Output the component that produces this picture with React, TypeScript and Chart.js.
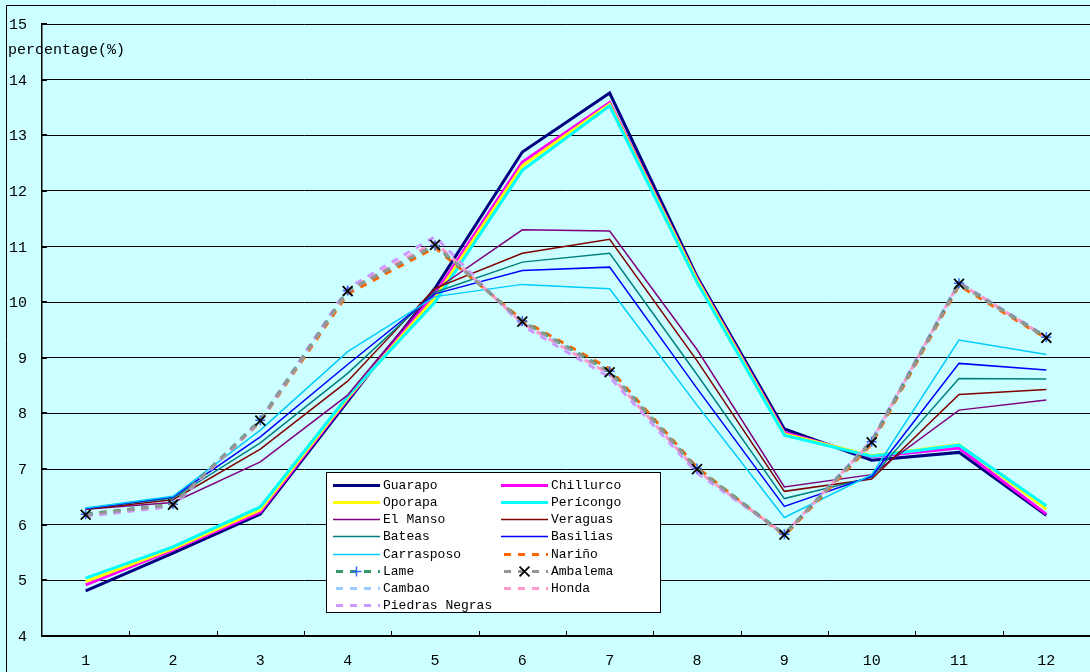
import React, { useEffect, useRef } from 'react';
import { Chart, registerables } from 'chart.js';

Chart.register(...registerables);

// Monthly share (%) by locality
const MONTHS = ['1', '2', '3', '4', '5', '6', '7', '8', '9', '10', '11', '12'];
const Y_TICKS = [4, 5, 6, 7, 8, 9, 10, 11, 12, 13, 14, 15];

const GUARAPO = [4.81, 5.49, 6.19, 8.22, 10.25, 12.7, 13.76, 10.46, 7.72, 7.16, 7.3, 6.17];
const CHILLURCO = [4.92, 5.55, 6.23, 8.26, 10.15, 12.52, 13.59, 10.42, 7.66, 7.22, 7.38, 6.19];
const OPORAPA = [4.98, 5.57, 6.27, 8.28, 10.08, 12.45, 13.56, 10.4, 7.63, 7.24, 7.44, 6.28];
const PERICONGO = [5.04, 5.6, 6.32, 8.31, 10.0, 12.37, 13.53, 10.36, 7.61, 7.23, 7.43, 6.34];
const EL_MANSO = [6.28, 6.4, 7.13, 8.33, 10.22, 11.3, 11.28, 9.15, 6.68, 6.9, 8.06, 8.24];
const VERAGUAS = [6.28, 6.45, 7.36, 8.58, 10.25, 10.88, 11.13, 8.95, 6.6, 6.82, 8.34, 8.43];
const BATEAS = [6.29, 6.48, 7.47, 8.72, 10.18, 10.72, 10.88, 8.7, 6.47, 6.85, 8.63, 8.62];
const BASILIAS = [6.29, 6.5, 7.58, 8.88, 10.15, 10.57, 10.63, 8.45, 6.33, 6.87, 8.9, 8.78];
const CARRASPOSO = [6.3, 6.51, 7.7, 9.11, 10.1, 10.32, 10.24, 8.15, 6.13, 6.9, 9.32, 9.06];
const NARINO = [6.17, 6.35, 7.85, 10.15, 10.98, 9.68, 8.8, 7.03, 5.8, 7.45, 10.3, 9.35];
const LAME = [6.19, 6.37, 7.88, 10.21, 11.02, 9.66, 8.76, 7.01, 5.83, 7.49, 10.34, 9.37];
const AMBALEMA = [6.18, 6.36, 7.87, 10.2, 11.03, 9.65, 8.74, 7.0, 5.82, 7.48, 10.33, 9.36];
const CAMBAO = [6.18, 6.36, 7.86, 10.2, 11.05, 9.64, 8.72, 6.98, 5.82, 7.5, 10.34, 9.37];
const HONDA = [6.17, 6.35, 7.86, 10.22, 11.08, 9.62, 8.7, 6.97, 5.83, 7.5, 10.35, 9.37];
const PIEDRAS_NEGRAS = [6.15, 6.33, 7.88, 10.25, 11.18, 9.58, 8.65, 6.93, 5.83, 7.52, 10.36, 9.38];

const BG = '#CCFFFF';
const MONO = '"Liberation Mono", "DejaVu Sans Mono", monospace';
const DASH = [7, 7];

const solid = (label: string, data: number[], color: string, width: number) => ({
  label,
  data,
  borderColor: color,
  backgroundColor: color,
  borderWidth: width,
  pointRadius: 0,
  fill: false,
});

const dashed = (label: string, data: number[], color: string) => ({
  label,
  data,
  borderColor: color,
  backgroundColor: color,
  borderWidth: 3,
  borderDash: DASH,
  pointRadius: 0,
  fill: false,
});

const buildDatasets = () => {
  const list: any[] = [
    solid('Guarapo', GUARAPO, '#000080', 3),
    solid('Chillurco', CHILLURCO, '#FF00FF', 3),
    solid('Oporapa', OPORAPA, '#FFFF00', 3),
    solid('Perícongo', PERICONGO, '#00FFFF', 3),
    solid('El Manso', EL_MANSO, '#800080', 1.5),
    solid('Veraguas', VERAGUAS, '#800000', 1.5),
    solid('Bateas', BATEAS, '#008080', 1.5),
    solid('Basilias', BASILIAS, '#0000FF', 1.5),
    solid('Carrasposo', CARRASPOSO, '#00CCFF', 1.5),
    dashed('Nariño', NARINO, '#FF6600'),
    {
      ...dashed('Lame', LAME, '#339966'),
      pointStyle: 'cross',
      pointRadius: 5,
      pointBorderColor: '#3366FF',
      pointBackgroundColor: '#3366FF',
      pointBorderWidth: 1.5,
    },
    {
      ...dashed('Ambalema', AMBALEMA, '#969696'),
      pointStyle: 'crossRot',
      pointRadius: 7,
      pointBorderColor: '#000000',
      pointBackgroundColor: '#000000',
      pointBorderWidth: 1.8,
    },
    dashed('Cambao', CAMBAO, '#99CCFF'),
    dashed('Honda', HONDA, '#FF99CC'),
    dashed('Piedras Negras', PIEDRAS_NEGRAS, '#CC99FF'),
  ];
  // later series paint over earlier ones; markers go on top of everything
  list.forEach((ds, i) => {
    ds.order = -i;
  });
  list[10].order = -99;
  list[11].order = -100;
  return list;
};

const drawMarker = (ctx: CanvasRenderingContext2D, style: string, x: number, y: number, r: number) => {
  ctx.beginPath();
  if (style === 'cross') {
    ctx.moveTo(x - r, y);
    ctx.lineTo(x + r, y);
    ctx.moveTo(x, y - r);
    ctx.lineTo(x, y + r);
  } else {
    const d = r * Math.SQRT1_2;
    ctx.moveTo(x - d, y - d);
    ctx.lineTo(x + d, y + d);
    ctx.moveTo(x - d, y + d);
    ctx.lineTo(x + d, y - d);
  }
  ctx.stroke();
};

const decorPlugin = {
  id: 'decor',
  beforeDraw(chart: any) {
    const { ctx, width, height } = chart;
    ctx.save();
    ctx.fillStyle = BG;
    ctx.fillRect(0, 0, width, height);
    ctx.strokeStyle = '#000';
    ctx.lineWidth = 1;
    ctx.beginPath();
    ctx.moveTo(6.5, height + 2);
    ctx.lineTo(6.5, 5.5);
    ctx.lineTo(width + 2, 5.5);
    ctx.stroke();
    ctx.restore();
  },
  afterDraw(chart: any) {
    const { ctx, chartArea, scales } = chart;
    const xs = scales.x;
    const ys = scales.y;
    ctx.save();

    // inward tick marks on both axes
    ctx.strokeStyle = '#000';
    ctx.lineWidth = 1;
    ctx.setLineDash([]);
    const step = xs.getPixelForValue(1) - xs.getPixelForValue(0);
    ctx.beginPath();
    for (let i = 0; i < MONTHS.length - 1; i++) {
      const px = Math.round(xs.getPixelForValue(i) + step / 2) + 0.5;
      ctx.moveTo(px, chartArea.bottom);
      ctx.lineTo(px, chartArea.bottom - 5);
    }
    ctx.stroke();
    ctx.lineWidth = 2;
    ctx.beginPath();
    Y_TICKS.forEach((v) => {
      const py = Math.round(ys.getPixelForValue(v));
      ctx.moveTo(chartArea.left, py);
      ctx.lineTo(chartArea.left + 5, py);
    });
    ctx.stroke();

    // axis caption
    ctx.fillStyle = '#000';
    ctx.font = `15px ${MONO}`;
    ctx.textAlign = 'left';
    ctx.textBaseline = 'middle';
    ctx.fillText('percentage(%)', 8, 50);

    // legend box
    const bx = 326.5;
    const by = 472.5;
    const bw = 334;
    const bh = 140;
    ctx.fillStyle = '#FFFFFF';
    ctx.fillRect(bx, by, bw, bh);
    ctx.strokeStyle = '#000';
    ctx.lineWidth = 1;
    ctx.strokeRect(bx, by, bw, bh);

    const datasets = chart.data.datasets;
    const colX = [333, 501];
    const rowH = 17.25;
    ctx.font = `13px ${MONO}`;
    datasets.forEach((ds: any, i: number) => {
      const col = i % 2;
      const row = Math.floor(i / 2);
      const sx = colX[col];
      const cy = Math.round(484.5 + row * rowH) + 0.5;
      ctx.save();
      ctx.strokeStyle = ds.borderColor;
      ctx.lineWidth = ds.borderWidth;
      if (ds.borderDash) {
        ctx.setLineDash(ds.borderDash);
        ctx.lineDashOffset = -3;
      } else {
        ctx.setLineDash([]);
      }
      ctx.beginPath();
      ctx.moveTo(sx, cy);
      ctx.lineTo(sx + 47, cy);
      ctx.stroke();
      if (ds.pointStyle && ds.pointRadius > 0) {
        ctx.setLineDash([]);
        ctx.strokeStyle = ds.pointBorderColor;
        ctx.lineWidth = ds.pointBorderWidth;
        drawMarker(ctx, ds.pointStyle, sx + 23.5, cy, ds.pointRadius);
      }
      ctx.restore();
      ctx.fillStyle = '#000';
      ctx.textAlign = 'left';
      ctx.textBaseline = 'middle';
      ctx.fillText(ds.label, sx + 50, cy);
    });

    ctx.restore();
  },
};

export default function App() {
  const canvasRef = useRef<HTMLCanvasElement | null>(null);

  useEffect(() => {
    const canvas = canvasRef.current;
    if (!canvas) return;
    const chart = new Chart(canvas, {
      type: 'line',
      data: {
        labels: MONTHS,
        datasets: buildDatasets(),
      },
      options: {
        animation: false,
        responsive: false,
        devicePixelRatio: 1,
        events: [],
        layout: { autoPadding: false, padding: { top: 24, left: 0, right: 0, bottom: 0 } },
        plugins: {
          legend: { display: false },
          tooltip: { enabled: false },
          title: { display: false },
        },
        scales: {
          x: {
            type: 'category',
            offset: true,
            grid: { display: false, drawTicks: false },
            border: { display: true, color: '#000', width: 1.5 },
            ticks: {
              color: '#000',
              font: { family: MONO, size: 15 },
              padding: 16,
              maxRotation: 0,
              autoSkip: false,
            },
            afterFit: (s: any) => {
              s.height = 36;
              s.paddingLeft = 0;
              s.paddingRight = 0;
            },
          },
          y: {
            type: 'linear',
            min: 4,
            max: 15,
            grid: { color: '#000', lineWidth: 1, drawTicks: false },
            border: { display: true, color: '#000', width: 1.5 },
            ticks: {
              stepSize: 1,
              color: '#000',
              font: { family: MONO, size: 15 },
              padding: 15,
              labelOffset: 1,
            },
            afterFit: (s: any) => {
              s.width = 42;
              s.paddingTop = 0;
              s.paddingBottom = 0;
            },
          },
        },
      },
      plugins: [decorPlugin],
    });
    return () => chart.destroy();
  }, []);

  return (
    <div style={{ position: 'absolute', left: 0, top: 0, width: 1090, height: 672, background: BG }}>
      <canvas ref={canvasRef} width={1090} height={672} style={{ width: 1090, height: 672, display: 'block' }} />
    </div>
  );
}
